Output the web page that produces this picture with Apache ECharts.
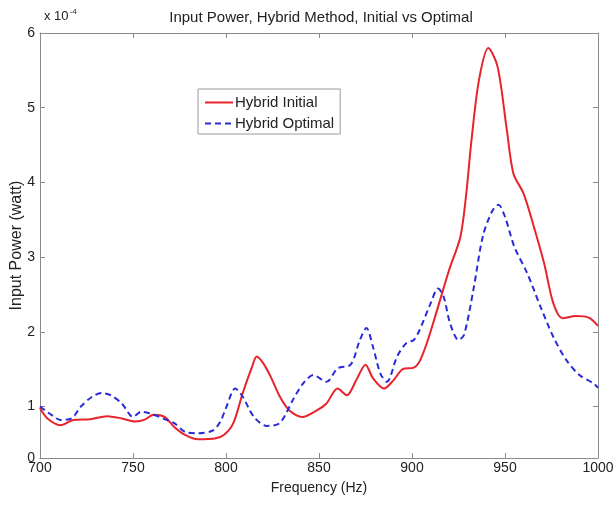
<!DOCTYPE html>
<html>
<head>
<meta charset="utf-8">
<script src="https://cdn.jsdelivr.net/npm/echarts@6/dist/echarts.min.js"></script>
<style>html,body{margin:0;padding:0;background:#fff;}#c{width:615px;height:523px;}</style>
</head>
<body>
<div id="c"></div>
<script>
// Values in units of 1e-4 watt
const freqInitial = [700,704,711,718,727,736,744,751,756,761,767,772,778,785,794,799,804,809,814,816.5,820,824,829,834,841,849,854,860,865,870,875,879,885,890,895,901,904,908,913,920,926,929,932,936,941,946,951,954.5,960,965,971,976,981,988,995,1000];
const valInitial  = [0.98,0.84,0.75,0.82,0.83,0.87,0.84,0.80,0.82,0.89,0.86,0.73,0.62,0.56,0.57,0.62,0.78,1.18,1.53,1.67,1.58,1.40,1.13,0.95,0.86,0.95,1.04,1.24,1.15,1.35,1.56,1.38,1.24,1.35,1.50,1.52,1.60,1.85,2.25,2.83,3.27,3.81,4.57,5.37,5.80,5.55,4.70,4.12,3.85,3.45,2.92,2.38,2.18,2.21,2.19,2.08];
const freqOptimal = [700,706,711,717,722,728,733,738,744,750,754.5,760,767,772,778,785,793,797,800,805,809,815,822,829,836,841.5,847,854,860,867,872,875.5,879,883,886.5,892,897,901,904,910,914,917,920.5,925,928,933,938,943,946.5,950,955,962,969,976,983,990,997.5,1000];
const valOptimal  = [1.00,0.89,0.82,0.84,1.00,1.13,1.18,1.15,1.04,0.86,0.93,0.90,0.83,0.78,0.66,0.64,0.68,0.80,0.98,1.24,1.13,0.86,0.74,0.78,1.09,1.31,1.42,1.33,1.51,1.56,1.89,2.05,1.80,1.44,1.33,1.67,1.85,1.89,2.02,2.38,2.58,2.47,2.11,1.89,1.96,2.56,3.27,3.61,3.70,3.54,3.14,2.78,2.34,1.93,1.62,1.42,1.31,1.25];
const xTicks = [700,750,800,850,900,950,1000];
const yTickValues = [1,2,3,4,5];
const yLabelValues = [0.31,1,2,3,4,5,6];

const pairs = (xs, ys) => xs.map((x, i) => [x, ys[i]]);
const font = 'Liberation Sans, Arial, sans-serif';
const axisGray = '#8a8a8a';
const txt = '#222';

const chart = echarts.init(document.getElementById('c'), null, {renderer: 'canvas'});
chart.setOption({
  animation: false,
  backgroundColor: '#fff',
  title: {
    text: 'Input Power, Hybrid Method, Initial vs Optimal',
    left: 316, top: 5, textAlign: 'center',
    textStyle: {fontFamily: font, fontSize: 15, fontWeight: 'normal', color: txt}
  },
  graphic: [{
    type: 'text', left: 44, top: 8,
    style: {
      text: '{a|x 10}{b|-4}',
      rich: {
        a: {fontFamily: font, fontSize: 13, fill: txt, verticalAlign: 'bottom'},
        b: {fontFamily: font, fontSize: 8, fill: txt, verticalAlign: 'top', padding: [0,0,7,1]}
      }
    }
  }],
  legend: {
    orient: 'vertical', left: 198, top: 89,
    padding: [6, 6, 3, 6], itemGap: 6, itemWidth: 28, itemHeight: 15,
    borderColor: '#9a9a9a', borderWidth: 1, backgroundColor: '#fff',
    itemStyle: {opacity: 0},
    textStyle: {fontFamily: font, fontSize: 15, color: txt, padding: [0,0,0,-3]},
    data: ['Hybrid Initial', 'Hybrid Optimal']
  },
  grid: {left: 40, right: 17, top: 33, bottom: 65, containLabel: false, outerBoundsMode: 'none'},
  xAxis: [{
    type: 'value', min: 700, max: 1000, interval: 50,
    name: 'Frequency (Hz)', nameLocation: 'middle', nameGap: 23,
    nameTextStyle: {fontFamily: font, fontSize: 14, color: txt},
    axisLine: {show: true, lineStyle: {color: axisGray, width: 1}},
    axisTick: {inside: true, length: 5, lineStyle: {color: axisGray}},
    axisLabel: {fontFamily: font, fontSize: 14, color: txt, margin: 3, formatter: v => String(v)},
    splitLine: {show: false}
  }, {
    type: 'value', position: 'top', min: 700, max: 1000, interval: 50,
    axisLine: {show: true, lineStyle: {color: axisGray, width: 1}},
    axisTick: {inside: true, length: 5, lineStyle: {color: axisGray}},
    axisLabel: {show: false}, splitLine: {show: false}
  }],
  yAxis: [{
    type: 'value', min: 0.31, max: 6,
    name: 'Input Power (watt)', nameLocation: 'middle', nameGap: 15, nameMoveOverlap: false,
    nameTextStyle: {fontFamily: font, fontSize: 16, color: txt},
    axisLine: {show: true, lineStyle: {color: axisGray, width: 1}},
    axisTick: {inside: true, length: 5, customValues: yTickValues, lineStyle: {color: axisGray}},
    axisLabel: {fontFamily: font, fontSize: 14, color: txt, margin: 5,
      customValues: yLabelValues,
      formatter: v => v < 0.5 ? '0' : String(Math.round(v))},
    splitLine: {show: false}
  }, {
    type: 'value', position: 'right', min: 0.31, max: 6,
    axisLine: {show: true, lineStyle: {color: axisGray, width: 1}},
    axisTick: {inside: true, length: 5, customValues: yTickValues, lineStyle: {color: axisGray}},
    axisLabel: {show: false}, splitLine: {show: false}
  }],
  series: [{
    name: 'Hybrid Initial', type: 'line', xAxisIndex: 0, yAxisIndex: 0,
    data: pairs(freqInitial, valInitial),
    smooth: 0.3, symbol: 'none',
    color: '#e8232b',
    lineStyle: {color: '#e8232b', width: 2}
  }, {
    name: 'Hybrid Optimal', type: 'line', xAxisIndex: 0, yAxisIndex: 0,
    data: pairs(freqOptimal, valOptimal),
    smooth: 0.3, symbol: 'none',
    color: '#2a2ad8',
    lineStyle: {color: '#2a2ad8', width: 2, type: [6, 4]}
  }]
});
</script>
</body>
</html>
